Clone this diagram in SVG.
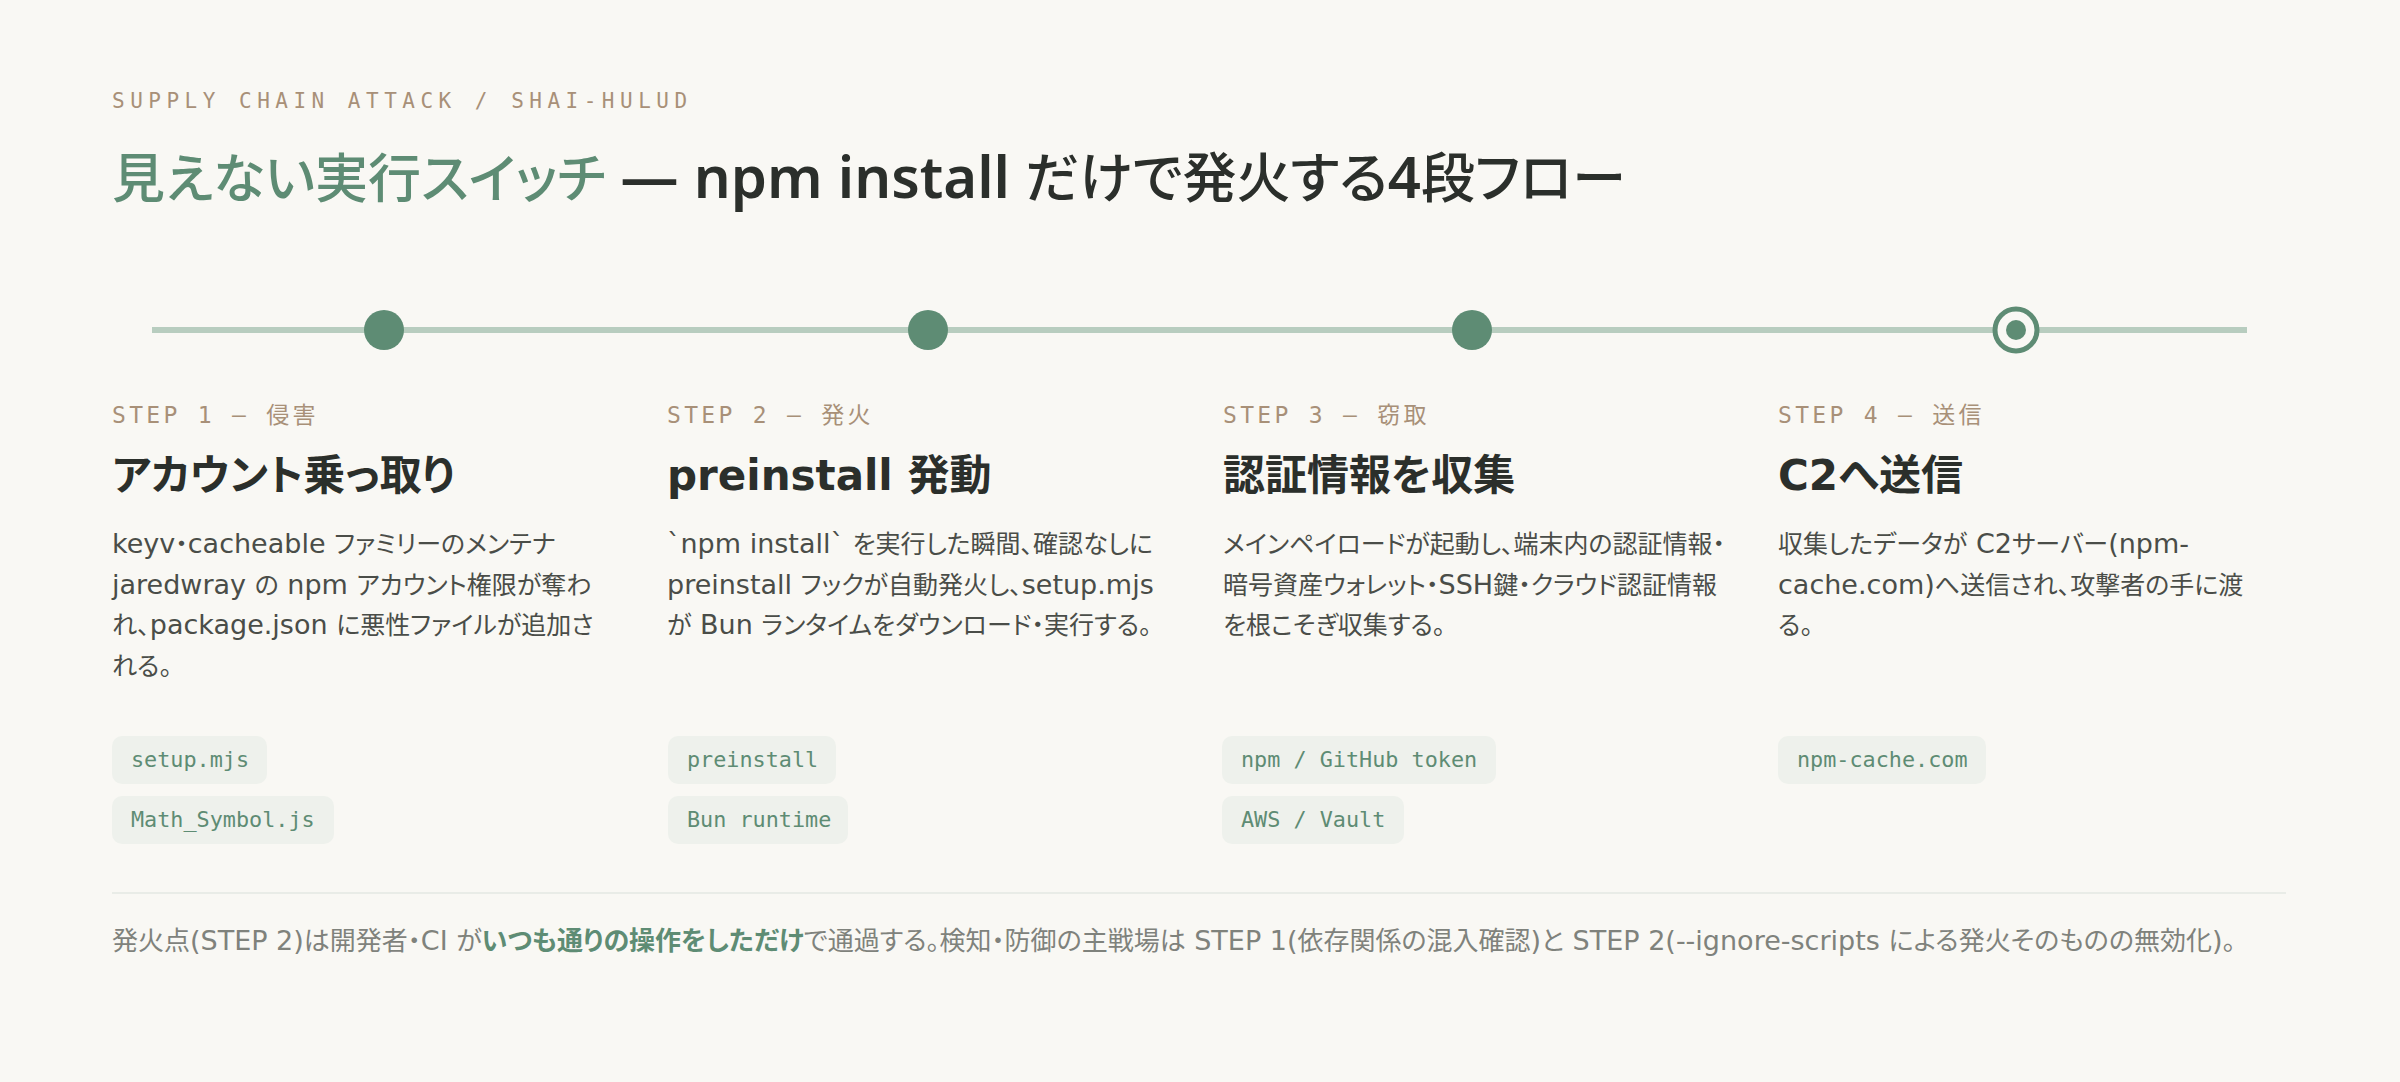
<svg xmlns="http://www.w3.org/2000/svg" width="2400" height="1082" viewBox="0 0 2400 1082">
<style>
.bg{fill:#f9f8f4}
.mono{font-family:"DejaVu Sans Mono","Liberation Mono","Noto Sans CJK JP",monospace}
.sans{font-family:"DejaVu Sans","Noto Sans CJK JP",sans-serif;font-feature-settings:"palt"}
.kicker{font-size:21px;letter-spacing:5.5px;fill:#a89078}
.steplabel{font-size:23px;letter-spacing:3.3px;fill:#a89078}
.title{font-family:"Noto Sans CJK JP","Noto Sans",sans-serif;font-feature-settings:"palt";font-size:53px;font-weight:500;fill:#2b2f2b}
.tl{font-family:"Noto Sans","Noto Sans CJK JP",sans-serif;font-size:58px;font-weight:600}
.tc{font-size:54px}
.accent{fill:#5e8c74}
.steptitle{font-size:42px;font-weight:700;fill:#2b2f2b}
.body{font-size:25px;fill:#4a4d48}
.l{font-size:27px}
.chip rect{fill:#eef1ec}
.chip text{font-size:21.8px;fill:#5e8c74}
.dot{fill:#5e8c74}
.foot{font-size:26px;fill:#7f827c}
.hl{fill:#5e8c74;font-weight:700}
</style>
<rect class="bg" x="0" y="0" width="2400" height="1082"/>
<g id="header">
<text class="mono kicker" x="112" y="108">SUPPLY CHAIN ATTACK / SHAI-HULUD</text>
<text class="title" x="112" y="198"><tspan class="accent">見えない実行スイッチ</tspan><tspan class="tl"> — npm install </tspan><tspan class="tc">だけで発火する</tspan><tspan class="tl">4</tspan><tspan class="tc">段フロー</tspan></text>
</g>
<g id="connectors">
<line x1="152" y1="330" x2="2247" y2="330" stroke="#b8cdbf" stroke-width="6"/>
</g>
<g id="step1">
<circle class="dot" cx="384" cy="330" r="20"/>
<text class="mono steplabel" x="112" y="423">STEP 1 — 侵害</text>
<text class="sans steptitle" x="112" y="490">アカウント乗っ取り</text>
<text class="sans body" x="112" y="553"><tspan class="l">keyv</tspan>・<tspan class="l">cacheable </tspan>ファミリーのメンテナ</text>
<text class="sans body" x="112" y="593.5"><tspan class="l">jaredwray </tspan>の<tspan class="l"> npm </tspan>アカウント権限が奪わ</text>
<text class="sans body" x="112" y="634">れ、<tspan class="l">package.json </tspan>に悪性ファイルが追加さ</text>
<text class="sans body" x="112" y="674.5">れる。</text>
<g class="chip"><rect x="112" y="736" width="155" height="48" rx="10"/><text class="mono" x="131" y="767">setup.mjs</text></g>
<g class="chip"><rect x="112" y="796" width="222" height="48" rx="10"/><text class="mono" x="131" y="827">Math_Symbol.js</text></g>
</g>
<g id="step2">
<circle class="dot" cx="928" cy="330" r="20"/>
<text class="mono steplabel" x="667" y="423">STEP 2 — 発火</text>
<text class="sans steptitle" x="667" y="490">preinstall 発動</text>
<text class="sans body" x="667" y="553"><tspan class="l">`npm install` </tspan>を実行した瞬間、確認なしに</text>
<text class="sans body" x="667" y="593.5"><tspan class="l">preinstall </tspan>フックが自動発火し、<tspan class="l">setup.mjs</tspan></text>
<text class="sans body" x="667" y="634">が<tspan class="l"> Bun </tspan>ランタイムをダウンロード・実行する。</text>
<g class="chip"><rect x="668" y="736" width="168" height="48" rx="10"/><text class="mono" x="687" y="767">preinstall</text></g>
<g class="chip"><rect x="668" y="796" width="180" height="48" rx="10"/><text class="mono" x="687" y="827">Bun runtime</text></g>
</g>
<g id="step3">
<circle class="dot" cx="1472" cy="330" r="20"/>
<text class="mono steplabel" x="1223" y="423">STEP 3 — 窃取</text>
<text class="sans steptitle" x="1223" y="490">認証情報を収集</text>
<text class="sans body" x="1223" y="553">メインペイロードが起動し、端末内の認証情報・</text>
<text class="sans body" x="1223" y="593.5">暗号資産ウォレット・<tspan class="l">SSH</tspan>鍵・クラウド認証情報</text>
<text class="sans body" x="1223" y="634">を根こそぎ収集する。</text>
<g class="chip"><rect x="1222" y="736" width="274" height="48" rx="10"/><text class="mono" x="1241" y="767">npm / GitHub token</text></g>
<g class="chip"><rect x="1222" y="796" width="182" height="48" rx="10"/><text class="mono" x="1241" y="827">AWS / Vault</text></g>
</g>
<g id="step4">
<circle cx="2016" cy="330" r="21" fill="#f9f8f4" stroke="#5e8c74" stroke-width="5"/>
<circle class="dot" cx="2016" cy="330" r="10"/>
<text class="mono steplabel" x="1778" y="423">STEP 4 — 送信</text>
<text class="sans steptitle" x="1778" y="490">C2へ送信</text>
<text class="sans body" x="1778" y="553">収集したデータが<tspan class="l"> C2</tspan>サーバー<tspan class="l">(npm-</tspan></text>
<text class="sans body" x="1778" y="593.5"><tspan class="l">cache.com)</tspan>へ送信され、攻撃者の手に渡</text>
<text class="sans body" x="1778" y="634">る。</text>
<g class="chip"><rect x="1778" y="736" width="208" height="48" rx="10"/><text class="mono" x="1797" y="767">npm-cache.com</text></g>
</g>
<g id="footer">
<line x1="112" y1="893" x2="2286" y2="893" stroke="#e9ece7" stroke-width="2"/>
<text class="sans foot" x="112" y="950">発火点<tspan class="l">(STEP 2)</tspan>は開発者・<tspan class="l">CI </tspan>が<tspan class="hl">いつも通りの操作をしただけ</tspan>で通過する。検知・防御の主戦場は<tspan class="l"> STEP 1(</tspan>依存関係の混入確認<tspan class="l">)</tspan>と<tspan class="l"> STEP 2(--ignore-scripts </tspan>による発火そのものの無効化<tspan class="l">)</tspan>。</text>
</g>
</svg>
